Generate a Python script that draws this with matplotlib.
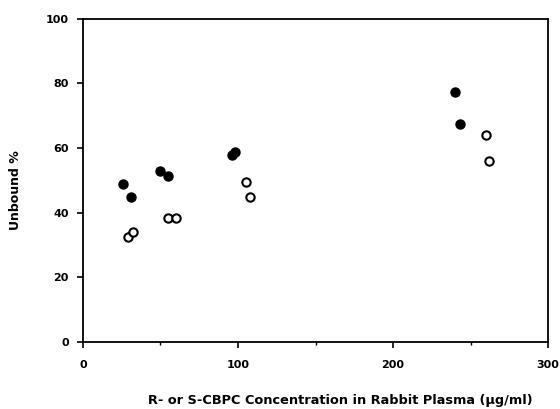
import matplotlib
matplotlib.use("Agg")
import matplotlib.pyplot as plt
from matplotlib.ticker import MultipleLocator

plt.rcParams['font.family'] = ['DejaVu Sans']

# R-CBPC (filled) and S-CBPC (open)
filled_x = [26, 31, 50, 55, 96, 98, 240, 243]
filled_y = [48.8, 45.0, 53.0, 51.5, 58.0, 58.8, 77.5, 67.5]
open_x = [29, 32.5, 55, 60, 105, 108, 260, 262]
open_y = [32.5, 34.0, 38.5, 38.5, 49.5, 45.0, 64.0, 56.0]

xticks = [0, 100, 200, 300]
yticks = [0, 20, 40, 60, 80, 100]

fig = plt.figure(figsize=(5.6, 4.09), dpi=100)
ax = fig.add_axes([0.148, 0.164, 0.831, 0.790])

ax.plot(filled_x, filled_y, 'o', color='black', markersize=6.5, linestyle='none')
ax.plot(open_x, open_y, 'o', markerfacecolor='white', markeredgecolor='black',
        markeredgewidth=1.5, markersize=6, linestyle='none')

ax.set_xlim(0, 300)
ax.set_ylim(0, 100)
ax.set_xticks(xticks)
ax.set_yticks(yticks)
ax.xaxis.set_minor_locator(MultipleLocator(50))
ax.tick_params(which='major', direction='out', length=4, width=1.2, labelsize=8)
ax.tick_params(axis='x', which='major', pad=9)
ax.tick_params(axis='y', which='major', pad=6)
ax.tick_params(which='minor', direction='out', length=2, width=1)
for lbl in ax.get_xticklabels() + ax.get_yticklabels():
    lbl.set_fontweight('bold')
for s in ax.spines.values():
    s.set_linewidth(1.3)

fig.text(0.607, 0.022, 'R- or S-CBPC Concentration in Rabbit Plasma (µg/ml)', fontsize=9.3,
         fontweight='bold', ha='center', va='center')
fig.text(0.028, 0.535, 'Unbound %', fontsize=9, fontweight='bold', rotation=90,
         ha='center', va='center')

fig.savefig('out.png', dpi=100)
